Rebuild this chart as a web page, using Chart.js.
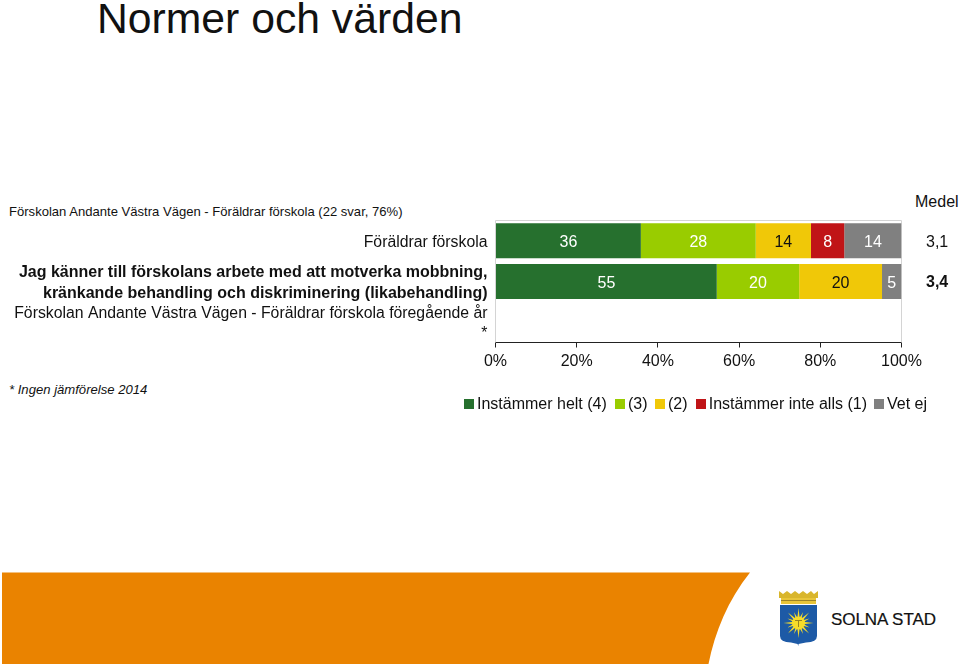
<!DOCTYPE html>
<html>
<head>
<meta charset="utf-8">
<script src="https://cdn.jsdelivr.net/npm/chart.js@4/dist/chart.umd.min.js"></script>
<style>
	html, body { margin: 0; padding: 0; background: #fff; overflow: hidden; }
	body { width: 959px; height: 664px; position: relative; font-family: "Liberation Sans", Arial, sans-serif; color: #111; }
	canvas { position: absolute; left: 0; top: 0; }
	.txt { position: absolute; white-space: nowrap; }
	#title { left: 97px; top: -7px; font-size: 42.7px; line-height: 50px; }
	#subtitle { left: 9px; top: 204px; font-size: 13.07px; line-height: 16px; }
	#note { left: 9px; top: 382px; font-size: 13.1px; line-height: 16px; font-style: italic; }
	#medel { left: 915px; top: 193px; font-size: 16px; line-height: 18px; }
	#legend { position: absolute; left: 464px; top: 395px; height: 18px; font-size: 16px; line-height: 18px; white-space: nowrap; }
	#legend span.item { position: absolute; top: 0; }
	#legend i { display: inline-block; width: 10px; height: 10px; margin-right: 3px; }
	#brand { left: 831px; top: 610px; font-size: 17px; line-height: 20px; letter-spacing: -0.05px; -webkit-text-stroke: 0.2px #111; }
	svg { position: absolute; left: 0; top: 0; }
</style>
</head>
<body>
<svg width="959" height="664" id="decor">
	<path d="M2 572.5 H750 C728 600 715 632 708.500 664 H2 Z" fill="#ea8300"/>
	<g id="logo">
		<path d="M780 605 H817 V636 Q817 642 806 642.500 L798.500 644 L798.500 646 L797.500 644 L791 642.500 Q780 642 780 636 Z" fill="#1d5aa6"/>
		<path d="M781 604 H816 V597 H781 Z" fill="#e8c53a"/>
		<path d="M779 591 L783 594 L787 591 L791 594 L795 591 L799 594 L803 591 L807 594 L811 591 L814 594 L818 591 V598 H779 Z" fill="#d9b62c"/>
		<path d="M781 600.500 H816" stroke="#8a7420" stroke-width="0.8"/>
		<g id="rays"></g>
		<circle cx="798.500" cy="623" r="6.500" fill="#f7dc2a"/>
		<path d="M795 620.500 H802 M798.500 620.500 V627" stroke="#9a8420" stroke-width="1"/>
	</g>
</svg>

<div class="txt" id="title">Normer och värden</div>
<div class="txt" id="subtitle">Förskolan Andante Västra Vägen - Föräldrar förskola (22 svar, 76%)</div>
<div class="txt" id="medel">Medel</div>
<div class="txt" id="note">* Ingen jämförelse 2014</div>
<div class="txt" id="brand">SOLNA STAD</div>

<canvas id="chart" width="959" height="664"></canvas>
<div id="legend"></div>

<script>
const categories = [
	"Föräldrar förskola",
	["Jag känner till förskolans arbete med att motverka mobbning,", "kränkande behandling och diskriminering (likabehandling)"],
	["Förskolan Andante Västra Vägen - Föräldrar förskola föregående år", "*"]
];
const medel = ["3,1", "3,4", ""];
const boldRow = 1;

const helt = [35.8, 54.5, null];
const tre = [28.3, 20.3, null];
const tva = [13.6, 20.4, null];
const inteAlls = [8.2, null, null];
const vetEj = [14.1, 4.8, null];

const seriesNames = ["Instämmer helt (4)", "(3)", "(2)", "Instämmer inte alls (1)", "Vet ej"];
const seriesColors = ["#26702e", "#99cc00", "#f0c808", "#c01417", "#808080"];
const labelColors = ["#fff", "#fff", "#111", "#fff", "#fff"];
const seriesValues = [helt, tre, tva, inteAlls, vetEj];

const legendStarts = [0, 151, 191, 231.7, 410];

const fontName = '"Liberation Sans", Arial, sans-serif';
const fontSize = 16;

// sun rays on the logo
var rays = "";
for (var i = 0; i < 16; i++) {
	rays += '<path transform="rotate(' + (i * 22.5) + ' 798.500 623)" d="M796.800 623 L798.500 ' + (i % 2 ? 611 : 608) + ' L800.200 623 Z" fill="#f7dc2a"/>';
}
document.getElementById("rays").innerHTML = rays;

const frame = {
	id: "frame",
	beforeDatasetsDraw(chart) {
		var a = chart.chartArea, ctx = chart.ctx;
		ctx.save();
		ctx.strokeStyle = "#d4d4d4";
		ctx.lineWidth = 1;
		ctx.beginPath();
		ctx.moveTo(a.left, a.bottom);
		ctx.lineTo(a.left, a.top);
		ctx.lineTo(a.right, a.top);
		ctx.lineTo(a.right, a.bottom);
		ctx.stroke();
		ctx.restore();
	}
};

const barLabels = {
	id: "barLabels",
	afterDatasetsDraw(chart) {
		var ctx = chart.ctx;
		ctx.save();
		ctx.font = fontSize + "px " + fontName;
		ctx.textAlign = "center";
		ctx.textBaseline = "middle";
		chart.data.datasets.forEach((ds, d) => {
			chart.getDatasetMeta(d).data.forEach((bar, i) => {
				if (ds.data[i] == null) return;
				ctx.fillStyle = labelColors[d];
				ctx.fillText(Math.round(ds.data[i]), bar.getCenterPoint().x, bar.getCenterPoint().y + 2);
			});
		});
		ctx.restore();
	}
};

const chart = new Chart(document.getElementById("chart").getContext("2d"), {
	type: "bar",
	plugins: [frame, barLabels],
	data: {
		labels: categories,
		datasets: seriesNames.map((name, i) => ({
			label: name,
			data: seriesValues[i],
			backgroundColor: seriesColors[i],
			barPercentage: 0.86,
			categoryPercentage: 1
		}))
	},
	options: {
		indexAxis: "y",
		responsive: false,
		animation: false,
		layout: { padding: { top: 220.5, bottom: 291.5, left: 0, right: 0 } },
		plugins: { legend: { display: false }, tooltip: { enabled: false } },
		scales: {
			x: {
				stacked: true,
				min: 0,
				max: 100,
				afterFit: s => { s.height = 30; },
				grid: { drawOnChartArea: false, color: "#222", tickLength: 5 },
				border: { color: "#222" },
				ticks: {
					stepSize: 20,
					padding: 4,
					color: "#111",
					maxRotation: 0,
					font: { family: fontName, size: fontSize },
					callback: v => v + "%"
				}
			},
			y: {
				stacked: true,
				afterFit: s => { s.width = 495.5; },
				grid: { display: false },
				border: { display: false },
				ticks: {
					autoSkip: false,
					padding: 0,
					labelOffset: 1.5,
					color: "#111",
					font: ctx => ctx.index === boldRow
						? { family: fontName, size: 16, weight: "bold", lineHeight: 1.36 }
						: { family: fontName, size: 15.8, lineHeight: 1.22 }
				}
			},
			y2: {
				type: "category",
				position: "right",
				labels: medel,
				afterFit: s => { s.width = 57.5; },
				grid: { display: false },
				border: { display: false },
				ticks: {
					autoSkip: false,
					padding: 16.5,
					labelOffset: 1.5,
					color: "#111",
					font: ctx => ({ family: fontName, size: fontSize, weight: ctx.index === boldRow ? "bold" : "normal" })
				}
			}
		}
	}
});

// legend as html so the box to text gap can stay tight
var legend = document.getElementById("legend");
chart.data.datasets.forEach((ds, i) => {
	var item = document.createElement("span");
	item.className = "item";
	item.style.left = legendStarts[i] + "px";
	item.innerHTML = '<i style="background:' + ds.backgroundColor + '"></i>' + ds.label;
	legend.appendChild(item);
});
</script>
</body>
</html>
